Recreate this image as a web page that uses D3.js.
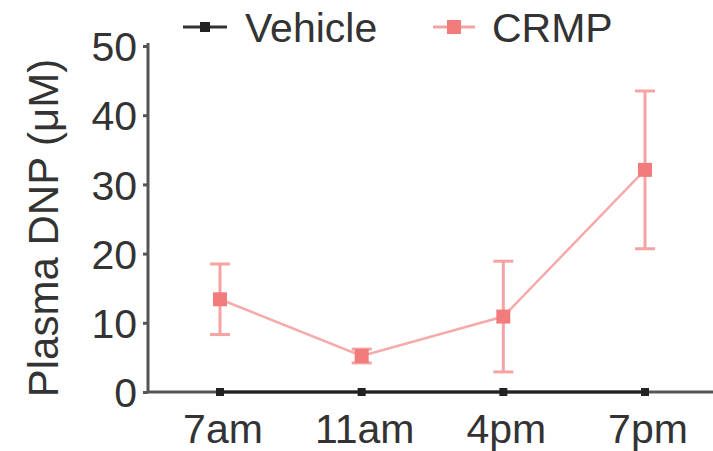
<!DOCTYPE html>
<html>
<head>
<meta charset="UTF-8">
<title>Plasma DNP</title>
<script src="https://cdn.jsdelivr.net/npm/d3@7"></script>
<style>
  body { margin: 0; background: #fff; }
  text { font-family: "Liberation Sans", Arial, sans-serif; fill: #333; }
</style>
</head>
<body>
<svg id="chart" width="713" height="451"></svg>
<script>
// data
var times = ["7am", "11am", "4pm", "7pm"];
var vehicleMean = [0, 0, 0, 0];
var crmpMean = [13.4, 5.2, 10.9, 32.1];
var crmpErr = [5.1, 1.0, 8.0, 11.4];
var yTicks = [0, 10, 20, 30, 40, 50];

var svg = d3.select("#chart");
var pink = "#f27c7c";
var pinkLight = "#f5a3a3";
var fs = "41px";

var x = d3.scalePoint().domain(times).range([220, 645]);
var y = d3.scaleLinear().domain([0, 50]).range([392, 46]);

// y axis
var yAxis = svg.append("g").attr("transform", "translate(148,0)")
    .call(d3.axisLeft(y).tickValues(yTicks).tickSize(5).tickPadding(6).tickSizeOuter(0));
yAxis.select(".domain").attr("stroke", "#555").attr("stroke-width", 3)
    .attr("d", "M0," + (y(50) - 3) + "V" + y(0));
yAxis.selectAll(".tick line").attr("stroke", "#555").attr("stroke-width", 3);
yAxis.selectAll(".tick text").style("font-size", fs).attr("fill", "#333").attr("dy", "0.36em");

// x axis line + labels
svg.append("line").attr("x1", 147).attr("x2", 713)
    .attr("y1", y(0)).attr("y2", y(0))
    .attr("stroke", "#555").attr("stroke-width", 3);
svg.selectAll(".xlab").data(times).enter().append("text")
    .attr("class", "xlab")
    .attr("x", function(d) { return x(d) + 3; })
    .attr("y", 443)
    .attr("text-anchor", "middle")
    .style("font-size", fs)
    .text(function(d) { return d; });

// y label
svg.append("text")
    .attr("transform", "translate(58,228) rotate(-90)")
    .attr("text-anchor", "middle")
    .style("font-size", "42px")
    .text("Plasma DNP (\u03BCM)");

// vehicle
var line = d3.line()
    .x(function(d, i) { return x(times[i]); })
    .y(function(d) { return y(d); });
svg.append("path").datum(vehicleMean).attr("d", line)
    .attr("fill", "none").attr("stroke", "#222").attr("stroke-width", 3);
svg.selectAll(".veh").data(vehicleMean).enter().append("rect")
    .attr("x", function(d, i) { return x(times[i]) - 4; })
    .attr("y", function(d) { return y(d) - 4; })
    .attr("width", 8).attr("height", 8).attr("fill", "#222");

// CRMP error bars
var eb = svg.selectAll(".eb").data(crmpMean).enter().append("g");
eb.append("line")
    .attr("x1", function(d, i) { return x(times[i]); })
    .attr("x2", function(d, i) { return x(times[i]); })
    .attr("y1", function(d, i) { return y(d + crmpErr[i]); })
    .attr("y2", function(d, i) { return y(d - crmpErr[i]); })
    .attr("stroke", pinkLight).attr("stroke-width", 3);
[1, -1].forEach(function(s) {
  eb.append("line")
      .attr("x1", function(d, i) { return x(times[i]) - 10; })
      .attr("x2", function(d, i) { return x(times[i]) + 10; })
      .attr("y1", function(d, i) { return y(d + s * crmpErr[i]); })
      .attr("y2", function(d, i) { return y(d + s * crmpErr[i]); })
      .attr("stroke", pinkLight).attr("stroke-width", 3);
});

svg.append("path").datum(crmpMean).attr("d", line)
    .attr("fill", "none").attr("stroke", "#f7aaaa").attr("stroke-width", 2.5);
svg.selectAll(".crmp").data(crmpMean).enter().append("rect")
    .attr("x", function(d, i) { return x(times[i]) - 7; })
    .attr("y", function(d) { return y(d) - 7; })
    .attr("width", 14).attr("height", 14).attr("fill", pink);

// legend
var leg = svg.append("g");
leg.append("line").attr("x1", 183).attr("x2", 227).attr("y1", 27).attr("y2", 27)
    .attr("stroke", "#333").attr("stroke-width", 3);
leg.append("rect").attr("x", 200).attr("y", 22).attr("width", 10).attr("height", 10).attr("fill", "#222");
leg.append("text").attr("x", 245).attr("y", 42).style("font-size", fs).text("Vehicle");
leg.append("line").attr("x1", 433).attr("x2", 475).attr("y1", 27).attr("y2", 27)
    .attr("stroke", pinkLight).attr("stroke-width", 3);
leg.append("rect").attr("x", 447).attr("y", 20).attr("width", 14).attr("height", 14).attr("fill", pink);
leg.append("text").attr("x", 492).attr("y", 42).style("font-size", fs).text("CRMP");
</script>
</body>
</html>
